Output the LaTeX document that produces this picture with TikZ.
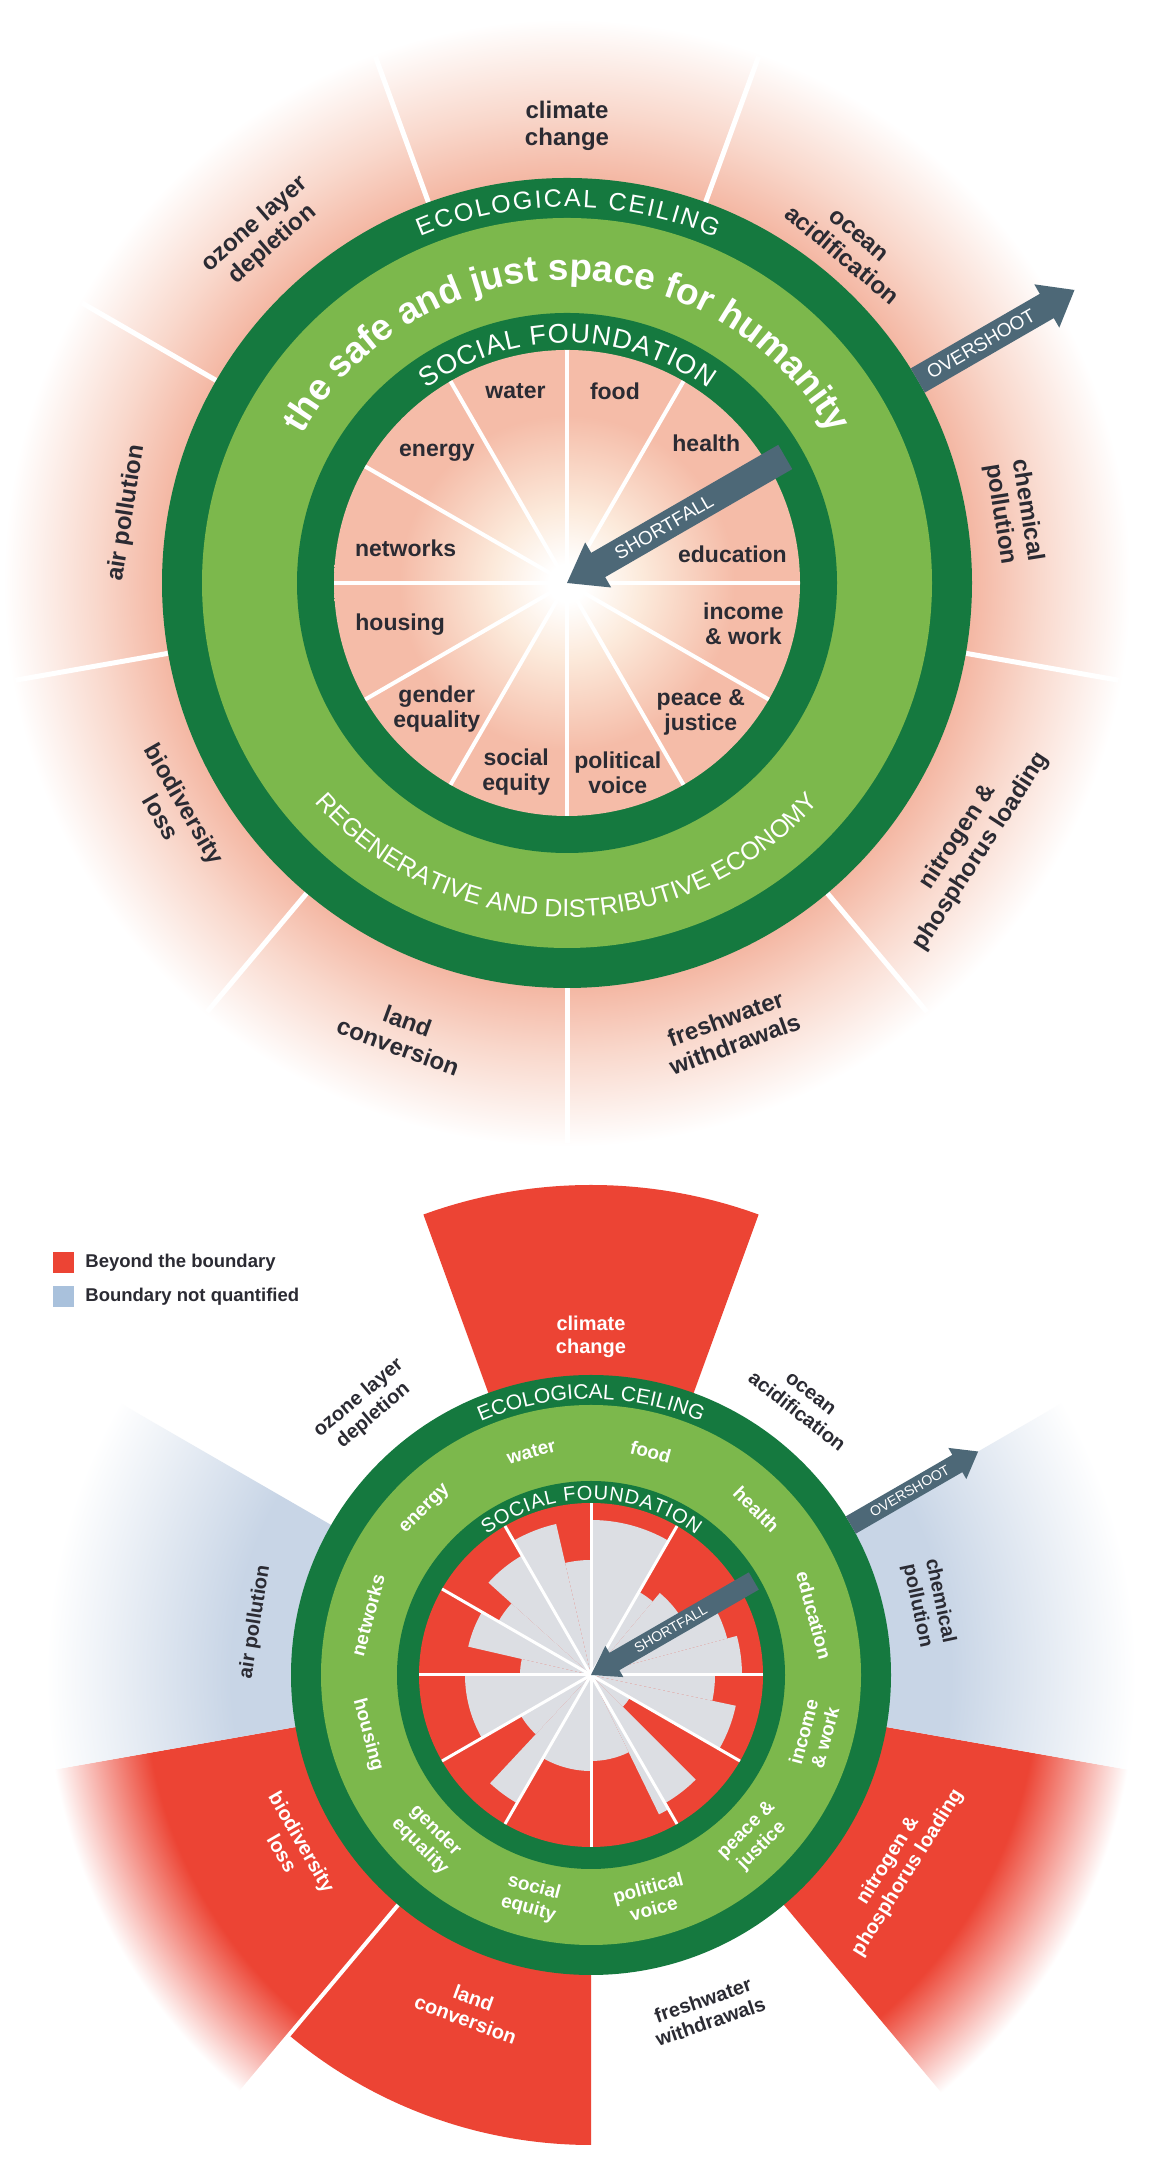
\documentclass[tikz,border=0pt]{standalone}
\usepackage{fontspec}
\setmainfont{Liberation Sans}
\usetikzlibrary{positioning,calc,decorations.text}
\definecolor{donutdark}{HTML}{15793F}
\definecolor{donutlight}{HTML}{7CB84C}
\definecolor{glowpink}{HTML}{F4B7A3}
\definecolor{glowsoft}{HTML}{F9D8CC}
\definecolor{corecream}{HTML}{FCEADB}
\definecolor{corepink}{HTML}{F5BCA8}
\definecolor{arrowslate}{HTML}{4D6877}
\definecolor{beyondred}{HTML}{EC4434}
\definecolor{safegrey}{HTML}{DCDEE3}
\definecolor{unknownblue}{HTML}{C8D5E6}
\definecolor{legendblue}{HTML}{A9C1DC}
\definecolor{labdark}{HTML}{2B2B33}
% 25bp is the rim of the shaded circle
\pgfdeclareradialshading{topglow}{\pgfpoint{0bp}{0bp}}{color(0bp)=(glowpink); color(17.6bp)=(glowpink); color(20.5bp)=(glowsoft); color(24.5bp)=(white); color(50bp)=(white)}
\pgfdeclareradialshading{topcore}{\pgfpoint{0bp}{0bp}}{color(0bp)=(white); color(2bp)=(white); color(8bp)=(corecream); color(18bp)=(corepink); color(50bp)=(corepink)}
\pgfdeclareradialshading{redfade}{\pgfpoint{0bp}{0bp}}{color(0bp)=(beyondred); color(20.5bp)=(beyondred); color(25bp)=(white); color(50bp)=(white)}
\pgfdeclareradialshading{bluefade}{\pgfpoint{0bp}{0bp}}{color(0bp)=(unknownblue); color(16.5bp)=(unknownblue); color(25bp)=(white); color(50bp)=(white)}
\newcommand\inlabfont{\fontsize{23}{25}\selectfont\bfseries}
\newcommand\outlabfont{\fontsize{24}{27}\selectfont\bfseries}
\newcommand\ceilfont{\fontsize{25}{25}\selectfont\kern2pt}
\newcommand\sofofont{\fontsize{27}{27}\selectfont\kern1pt}
\newcommand\safefont{\fontsize{37}{37}\selectfont\bfseries}
\newcommand\regenfont{\fontsize{25}{25}\selectfont}
\newcommand\arrowfont{\fontsize{19}{19}\selectfont}
\newcommand\soclabfont{\fontsize{19}{22}\selectfont\bfseries}
\newcommand\eclabfont{\fontsize{20}{23}\selectfont\bfseries}
\newcommand\bceilfont{\fontsize{21}{21}\selectfont}
\newcommand\bsofofont{\fontsize{20}{20}\selectfont\kern0.8pt}
\newcommand\smallarrowfont{\fontsize{14}{14}\selectfont}
\newcommand\legfont{\fontsize{18.5}{19}\selectfont\bfseries}

\begin{document}
\begin{tikzpicture}[x=1pt,y=1pt,
  inlab/.style={font=\inlabfont,text=labdark,align=center,inner sep=1pt},
  outlab/.style={font=\outlabfont,text=labdark,align=center,inner sep=1pt},
  soclab/.style={font=\soclabfont,text=white,align=center,inner sep=1pt},
  eclab/.style={font=\eclabfont,text=labdark,align=center,inner sep=1pt},
  arrowtxt/.style={font=\arrowfont,text=white,inner sep=0pt},
  legsq/.style={minimum size=21pt,inner sep=0pt},
  legtxt/.style={font=\legfont,text=labdark,inner sep=0pt}
]
\useasboundingbox (0,0) rectangle (1161,2169);
\fill[white] (0,0) rectangle (1161,2169);

% top doughnut
\coordinate (topc) at (567,1586);
\shade[shading=topglow] (topc) circle[radius=575];
\foreach \a in {110,70,30,-10,-50,-90,-130,-170,150}
  \draw[white,line width=5pt] ($(topc)+(\a:405)$) -- ($(topc)+(\a:560)$);
\fill[donutdark] (topc) circle[radius=405];
\fill[donutlight] (topc) circle[radius=365];
\fill[donutdark] (topc) circle[radius=270];
\shade[shading=topcore] (topc) circle[radius=233];
\foreach \a in {0,30,...,330}
  \draw[white,line width=4pt] (topc) -- ($(topc)+(\a:233)$);

\path[decoration={text along path,text={|\ceilfont|ECOLOGICAL CEILING},text align=center,text color=white},decorate]
  ($(topc)+(180:376)$) arc[start angle=180,end angle=0,radius=376];
\path[decoration={text along path,text={|\sofofont|SOCIAL FOUNDATION},text align=center,text color=white},decorate]
  ($(topc)+(180:240)$) arc[start angle=180,end angle=0,radius=240];
\path[decoration={text along path,text={|\safefont|the safe and just space for humanity},text align=center,text color=white},decorate]
  ($(topc)+(180:303)$) arc[start angle=180,end angle=0,radius=303];
\path[decoration={text along path,text={|\regenfont|REGENERATIVE AND DISTRIBUTIVE ECONOMY},text align=center,text color=white},decorate]
  ($(topc)+(180:334)$) arc[start angle=180,end angle=360,radius=334];

\begin{scope}[shift={(topc)},rotate=30]
  \fill[arrowslate] (405,-14) -- (554,-14) -- (554,-25) -- (586,0) -- (554,25) -- (554,14) -- (405,14) -- cycle;
  \node[arrowtxt,rotate=30] (tover) at (478,0) {OVERSHOOT};
  \fill[arrowslate] (0,0) -- (36,-26) -- (36,-14) -- (252,-14) -- (252,14) -- (36,14) -- (36,26) -- cycle;
  \node[arrowtxt,rotate=30] (tshort) at (112,0) {SHORTFALL};
\end{scope}

\node[inlab] (twater) at ($(topc)+(105:199)$) {water};
\node[inlab] (tfood) at ($(topc)+(76:198)$) {food};
\node[inlab] (thealth) at ($(topc)+(45:197)$) {health};
\node[inlab] (teducation) at ($(topc)+(10:168)$) {education};
\node[inlab] (tincome) at ($(topc)+(-13:181)$) {income\\\& work};
\node[inlab] (tpeace) at ($(topc)+(-44:186)$) {peace \&\\justice};
\node[inlab] (tpolitical) at ($(topc)+(-75:196)$) {political\\voice};
\node[inlab] (tsocial) at ($(topc)+(-105:196)$) {social\\equity};
\node[inlab] (tgender) at ($(topc)+(-136:181)$) {gender\\equality};
\node[inlab] (thousing) at ($(topc)+(-166:172)$) {housing};
\node[inlab] (tnetworks) at ($(topc)+(168:165)$) {networks};
\node[inlab] (tenergy) at ($(topc)+(135:184)$) {energy};

\node[outlab] (tclimate) at ($(topc)+(90:457)$) {climate\\change};
\node[outlab,rotate=-40] (tocean) at ($(topc)+(50:440)$) {ocean\\acidification};
\node[outlab,rotate=-81] (tchemical) at ($(topc)+(9:452)$) {chemical\\pollution};
\node[outlab,rotate=57] (tnitrogen) at ($(topc)+(-33:480)$) {nitrogen \&\\phosphorus loading};
\node[outlab,rotate=20] (tfresh) at ($(topc)+(-70:477)$) {freshwater\\withdrawals};
\node[outlab,rotate=-20] (tland) at ($(topc)+(-110:480)$) {land\\conversion};
\node[outlab,rotate=-60] (tbiodiv) at ($(topc)+(-150:455)$) {biodiversity\\loss};
\node[outlab,rotate=81] (tair) at ($(topc)+(171:446)$) {air pollution};
\node[outlab,rotate=41] (tozone) at ($(topc)+(131:462)$) {ozone layer\\depletion};

% bottom doughnut
\coordinate (botc) at (591,494);
\fill[beyondred] (botc) -- ($(botc)+(70:490)$) arc[start angle=70,end angle=110,radius=490] -- cycle;
\fill[beyondred] (botc) -- ($(botc)+(-130:470)$) arc[start angle=-130,end angle=-90,radius=470] -- cycle;
\begin{scope}
  \clip (botc) -- ($(botc)+(-170:600)$) arc[start angle=-170,end angle=-130,radius=600] -- cycle;
  \shade[shading=redfade] (botc) circle[radius=545];
\end{scope}
\begin{scope}
  \clip (botc) -- ($(botc)+(-50:600)$) arc[start angle=-50,end angle=-10,radius=600] -- cycle;
  \shade[shading=redfade] (botc) circle[radius=545];
\end{scope}
\begin{scope}
  \clip (botc) -- ($(botc)+(150:600)$) arc[start angle=150,end angle=190,radius=600] -- cycle;
  \shade[shading=bluefade] (botc) circle[radius=545];
\end{scope}
\begin{scope}
  \clip (botc) -- ($(botc)+(-10:600)$) arc[start angle=-10,end angle=30,radius=600] -- cycle;
  \shade[shading=bluefade] (botc) circle[radius=545];
\end{scope}
\draw[white,line width=4pt] ($(botc)+(-130:300)$) -- ($(botc)+(-130:560)$);

\fill[donutdark] (botc) circle[radius=300];
\fill[donutlight] (botc) circle[radius=270];
\fill[donutdark] (botc) circle[radius=194];
\fill[beyondred] (botc) circle[radius=172];
\foreach \sa/\ea/\rad in {60/90/155,50/60/96,30/50/107,15/30/141,0/15/151,-12/0/124,-30/-12/148,-45/-30/45,-60/-45/148,-64/-60/155,-90/-64/86,-120/-90/96,-133/-120/148,-150/-133/81,-180/-150/126,167/180/71,150/167/126,138/150/107,120/138/138,103/120/155,90/103/115}
  \fill[safegrey] (botc) -- ($(botc)+(\sa:\rad)$) arc[start angle=\sa,end angle=\ea,radius=\rad] -- cycle;
\foreach \a in {0,30,...,330}
  \draw[white,line width=3pt] (botc) -- ($(botc)+(\a:172)$);

\path[decoration={text along path,text={|\bceilfont|ECOLOGICAL CEILING},text align=center,text color=white},decorate]
  ($(botc)+(180:276)$) arc[start angle=180,end angle=0,radius=276];
\path[decoration={text along path,text={|\bsofofont|SOCIAL FOUNDATION},text align=center,text color=white},decorate]
  ($(botc)+(180:175)$) arc[start angle=180,end angle=0,radius=175];

\begin{scope}[shift={(botc)},rotate=30]
  \fill[arrowslate] (300,-10) -- (423,-10) -- (423,-18) -- (447,0) -- (423,18) -- (423,10) -- (300,10) -- cycle;
  \node[arrowtxt,font=\smallarrowfont,rotate=30] (bover) at (368,0) {OVERSHOOT};
  \fill[arrowslate] (0,0) -- (27,-18) -- (27,-10) -- (188,-10) -- (188,10) -- (27,10) -- (27,18) -- cycle;
  \node[arrowtxt,font=\smallarrowfont,rotate=30] (bshort) at (92,0) {SHORTFALL};
\end{scope}

\node[soclab,rotate=15] (bwater) at ($(botc)+(105:231)$) {water};
\node[soclab,rotate=-15] (bfood) at ($(botc)+(75:231)$) {food};
\node[soclab,rotate=-45] (bhealth) at ($(botc)+(45:234)$) {health};
\node[soclab,rotate=-75] (beducation) at ($(botc)+(15:231)$) {education};
\node[soclab,rotate=75] (bincome) at ($(botc)+(-15:231)$) {income\\\& work};
\node[soclab,rotate=45] (bpeace) at ($(botc)+(-45:231)$) {peace \&\\justice};
\node[soclab,rotate=15] (bpolitical) at ($(botc)+(-75:231)$) {political\\voice};
\node[soclab,rotate=-15] (bsocial) at ($(botc)+(-105:231)$) {social\\equity};
\node[soclab,rotate=-45] (bgender) at ($(botc)+(-135:231)$) {gender\\equality};
\node[soclab,rotate=-75] (bhousing) at ($(botc)+(-165:231)$) {housing};
\node[soclab,rotate=75] (bnetworks) at ($(botc)+(165:231)$) {networks};
\node[soclab,rotate=45] (benergy) at ($(botc)+(135:234)$) {energy};

\node[eclab,text=white] (bclimate) at ($(botc)+(90:338)$) {climate\\change};
\node[eclab,rotate=40] (bozone) at ($(botc)+(130:350)$) {ozone layer\\depletion};
\node[eclab,rotate=-38] (bocean) at ($(botc)+(52:345)$) {ocean\\acidification};
\node[eclab,rotate=-78] (bchemical) at ($(botc)+(12:345)$) {chemical\\pollution};
\node[eclab,rotate=81] (bair) at ($(botc)+(171:340)$) {air pollution};
\node[eclab,text=white,rotate=-60] (bbiodiv) at ($(botc)+(-150:345)$) {biodiversity\\loss};
\node[eclab,text=white,rotate=-20] (bland) at ($(botc)+(-110:355)$) {land\\conversion};
\node[eclab,rotate=19] (bfresh) at ($(botc)+(-71:355)$) {freshwater\\withdrawals};
\node[eclab,text=white,rotate=58] (bnitrogen) at ($(botc)+(-32:362)$) {nitrogen \&\\phosphorus loading};

% key
\node[legsq,fill=beyondred] (keyred) at (63.5,906.5) {};
\node[legtxt,right=11pt of keyred] (keyredtxt) {Beyond the boundary};
\node[legsq,fill=legendblue] (keyblue) at (63.5,872.5) {};
\node[legtxt,right=11pt of keyblue] (keybluetxt) {Boundary not quantified};
\end{tikzpicture}
\end{document}
